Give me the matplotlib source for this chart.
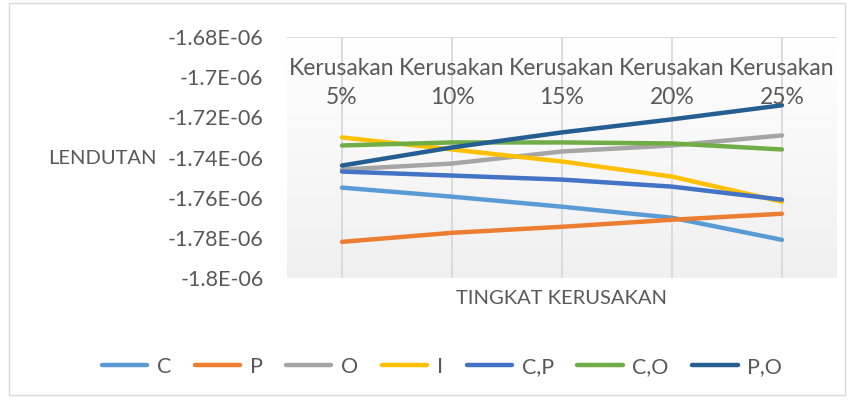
import matplotlib

matplotlib.use("Agg")
import matplotlib.pyplot as plt
import numpy as np
from matplotlib.colors import LinearSegmentedColormap
from matplotlib.patches import Rectangle
from matplotlib.transforms import blended_transform_factory


categories = ["Kerusakan\n5%", "Kerusakan\n10%", "Kerusakan\n15%", "Kerusakan\n20%", "Kerusakan\n25%"]

# lendutan values, in units of 1E-06
series = {
    "C": [-1.755, -1.7595, -1.7645, -1.770, -1.781],
    "P": [-1.782, -1.7775, -1.7745, -1.771, -1.768],
    "O": [-1.746, -1.743, -1.737, -1.734, -1.729],
    "I": [-1.730, -1.736, -1.742, -1.7495, -1.762],
    "C,P": [-1.747, -1.749, -1.751, -1.7545, -1.761],
    "C,O": [-1.734, -1.7325, -1.7325, -1.733, -1.736],
    "P,O": [-1.744, -1.735, -1.7275, -1.721, -1.714],
}
colors = ["#5B9BD5", "#ED7D31", "#A5A5A5", "#FFC000", "#4472C4", "#70AD47", "#255E91"]

y_ticks = [-1.80e-6, -1.78e-6, -1.76e-6, -1.74e-6, -1.72e-6, -1.70e-6, -1.68e-6]
y_tick_labels = ["-1.8E-06", "-1.78E-06", "-1.76E-06", "-1.74E-06", "-1.72E-06", "-1.7E-06", "-1.68E-06"]

TEXT = "#595959"
FS = 15.5
FS_CAT = 16.5
FS_TITLE = 14.5
plt.rcParams["font.family"] = ["Lato", "DejaVu Sans"]

fig = plt.figure(figsize=(8.54, 4.01), dpi=100)
fig.patches.append(Rectangle((9 / 854, 6 / 401), 836 / 854, 392 / 401, transform=fig.transFigure,
                             fill=False, edgecolor="#d9d9d9", linewidth=1.0))

ax = fig.add_axes([287 / 854, 1 - 278 / 401, 550 / 854, 241 / 401])
x = np.arange(len(categories))

grad = LinearSegmentedColormap.from_list("bg", ["#ffffff", "#f0f0f0"])
ax.imshow(np.linspace(0, 1, 256).reshape(-1, 1), cmap=grad, aspect="auto",
          extent=(-0.5, 4.5, y_ticks[0], y_ticks[-1]), origin="upper", zorder=0)

for xi in x:
    ax.axvline(xi, color="#d9d9d9", linewidth=1.3, zorder=1)
ax.axhline(y_ticks[-1], color="#d9d9d9", linewidth=1.3, zorder=1)

for (name, vals), c in zip(series.items(), colors):
    ax.plot(x, np.array(vals) * 1e-6, color=c, linewidth=3.2, solid_capstyle="round", label=name, zorder=3)

ax.set_xlim(-0.5, 4.5)
ax.set_ylim(y_ticks[0], y_ticks[-1])
ax.set_xticks([])
ax.set_yticks(y_ticks)
ax.set_yticklabels(y_tick_labels)
ax.tick_params(axis="y", length=0, pad=17, labelsize=FS, labelcolor=TEXT)
for s in ax.spines.values():
    s.set_visible(False)

trans = blended_transform_factory(ax.transData, ax.transAxes)
for xi, lab in zip(x, categories):
    ax.text(xi, (278 - 83) / 241, lab, transform=trans, ha="center", va="center",
            fontsize=FS_CAT, color=TEXT, linespacing=1.45, zorder=4)

fig.text(48 / 854, 1 - 158 / 401, "LENDUTAN", ha="left", va="center", fontsize=FS_TITLE, color=TEXT)
fig.text(562 / 854, 1 - 298 / 401, "TINGKAT KERUSAKAN", ha="center", va="center", fontsize=FS_TITLE, color=TEXT)

fig.legend(loc="center", bbox_to_anchor=(442 / 854, 1 - 367 / 401), ncol=7, frameon=False,
           fontsize=FS, labelcolor=TEXT, handlelength=2.1, handletextpad=0.45, columnspacing=1.1)

fig.savefig("out.png", dpi=100)
plt.close(fig)
